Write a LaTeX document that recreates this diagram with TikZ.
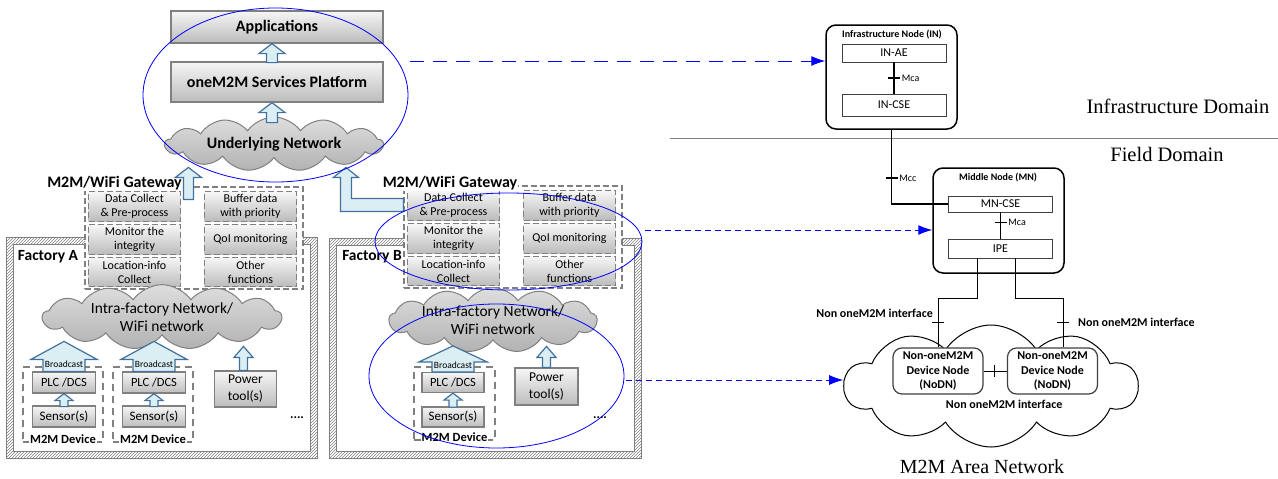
\documentclass[tikz,border=0pt]{standalone}
\usepackage{fontspec}
\setmainfont{Carlito}
\newfontfamily\domfont{Liberation Serif}
\usetikzlibrary{positioning,calc,shapes.geometric,shapes.symbols,patterns,arrows.meta}

\definecolor{boxline}{RGB}{128,128,128}
\definecolor{boxtop}{RGB}{246,246,246}
\definecolor{boxbot}{RGB}{188,188,188}
\definecolor{cloudtop}{RGB}{222,222,222}
\definecolor{cloudbot}{RGB}{178,178,178}
\definecolor{arrfill}{RGB}{218,238,243}
\definecolor{arrline}{RGB}{65,113,156}

% hollow block arrow pointing up: tip, length, half shaft, half head, head length
\newcommand{\blkarrow}[5]{%
  \draw[blkarr] (#1) -- ++(#4,#5) -- ++(#3-#4,0) -- ++(0,#2-#5)
    -- ++(-2*#3,0) -- ++(0,#5-#2) -- ++(#3-#4,0) -- cycle;}

\begin{document}
\begin{tikzpicture}[x=1pt, y=-1pt,
  greybox/.style={draw=boxline, line width=1.2pt, top color=boxtop, bottom color=boxbot, inner sep=1pt, align=center},
  gwbox/.style={greybox, dash pattern=on 6pt off 3pt, minimum width=92pt, minimum height=29.5pt, font=\fontsize{12}{14}\selectfont},
  gwframe/.style={draw=boxline, line width=1.2pt, dash pattern=on 6pt off 3pt, fill=white},
  devframe/.style={draw=boxline, line width=1.2pt, dash pattern=on 7pt off 5pt},
  netcloud/.style={cloud, cloud puffs=13, cloud puff arc=110, cloud ignores aspect, draw=boxline, line width=1pt, top color=cloudtop, bottom color=cloudbot, inner sep=0pt, align=center},
  blkarr/.style={draw=arrline, fill=arrfill, line width=1.2pt, line join=miter},
  title/.style={font=\bfseries\fontsize{16}{19}\selectfont, inner sep=1pt},
  devlbl/.style={font=\bfseries\fontsize{12.5}{15}\selectfont, fill=white, inner sep=1pt},
  ring/.style={ellipse, draw=blue, line width=0.8pt, inner sep=0pt},
  farrow/.style={blue, line width=1pt, -{Latex[length=14pt,width=10pt]}},
  onenode/.style={draw=black, line width=1.5pt, rounded corners=10pt, fill=white},
  entity/.style={draw=black!75, line width=0.8pt, fill=white, minimum width=104pt, font=\fontsize{12}{14}\selectfont, inner sep=0pt},
  nodn/.style={draw=black!75, line width=1.2pt, rounded corners=9pt, fill=white, minimum width=90pt, minimum height=46pt, align=center, font=\bfseries\fontsize{12}{14.5}\selectfont, inner sep=0pt},
  ifline/.style={black, line width=1.6pt},
  thinline/.style={black, line width=0.9pt},
  lbl/.style={font=\fontsize{10}{12}\selectfont, inner sep=1pt},
  iflbl/.style={font=\bfseries\fontsize{12}{14}\selectfont, inner sep=1pt},
  domlbl/.style={font=\domfont\fontsize{20.5}{24}\selectfont, inner sep=0pt}]
\useasboundingbox (0,0) rectangle (1278,479);

% factory frames
\fill[pattern=north east lines, pattern color=boxline, even odd rule] (6,237) rectangle (317,458) (13,244) rectangle (310,451);
\draw[boxline, line width=0.8pt] (6,237) rectangle (317,458) (13,244) rectangle (310,451);
\fill[pattern=north east lines, pattern color=boxline, even odd rule] (329,238) rectangle (641,458) (336,245) rectangle (634,451);
\draw[boxline, line width=0.8pt] (329,238) rectangle (641,458) (336,245) rectangle (634,451);
\node[title, font=\bfseries\fontsize{15.5}{18}\selectfont] (facA) at (48,257) {Factory A};
\node[title, font=\bfseries\fontsize{15.5}{18}\selectfont] (facB) at (372,257) {Factory B};

% gateways
\foreach \dx/\dy/\gn in {0/0/a, 319/-1/b} {
\begin{scope}[shift={(\dx,\dy)}]
\node[gwframe, minimum width=218pt, minimum height=102pt] (gw\gn) at (194,238) {};
\node[gwbox] (dc\gn) at (134.5,206.5) {Data Collect\\\& Pre-process};
\node[gwbox] (mi\gn) at (134.5,239.5) {Monitor the\\integrity};
\node[gwbox] (lc\gn) at (134.5,272) {Location-info\\Collect};
\node[gwbox] (bd\gn) at (250.5,206.5) {Buffer data\\with priority};
\node[gwbox] (qm\gn) at (250.5,239.5) {QoI monitoring};
\node[gwbox] (of\gn) at (250.5,272) {Other\\functions};
\end{scope}
}
\node[title, fill=white] (gwla) at (114.5,183) {M2M/WiFi Gateway};
\node[title, fill=white] (gwlb) at (450,183) {M2M/WiFi Gateway};

% top layers
\node[greybox, minimum width=212pt, minimum height=32pt, font=\bfseries\fontsize{16}{19}\selectfont] (apps) at (277,27) {Applications};
\node[greybox, minimum width=212pt, minimum height=40pt, font=\bfseries\fontsize{16}{19}\selectfont] (plat) at (277,82) {oneM2M Services Platform};
\node[netcloud, minimum width=218pt, minimum height=54pt, font=\bfseries\fontsize{16}{19}\selectfont] (ucloud) at (274,144) {Underlying Network};
\blkarrow{[xshift=-5pt]apps.south}{19}{5.5}{13}{10}
\blkarrow{[xshift=-5pt]plat.south}{20}{5.5}{13}{10}
\blkarrow{$(gwa.north west)+(104,-19)$}{32}{5}{13}{10}
\draw[blkarr] ($(gwb.north west)+(0,13)$) -- ++(-52,0) -- ++(0,-21) -- ++(7,0) -- ++(-12.5,-10)
  -- ++(-12.5,10) -- ++(7,0) -- ++(0,34) -- ++(63,0) -- cycle;

% factory A
\node[netcloud, minimum width=239pt, minimum height=50pt, font=\fontsize{15.5}{18}\selectfont] (icloudA) at (162,317) {Intra-factory Network/\\WiFi network};
\foreach \cx/\dn in {63/A1, 153/A2} {
\node[devframe, minimum width=80pt, minimum height=75pt] (dev\dn) at (\cx,404.5) {};
\node[greybox, minimum width=63pt, minimum height=21pt, font=\fontsize{12.5}{15}\selectfont] (plc\dn) at (\cx+1,382.5) {PLC /DCS};
\node[greybox, minimum width=63pt, minimum height=21pt, font=\fontsize{13}{15}\selectfont] (sen\dn) at (\cx+1,416.5) {Sensor(s)};
\blkarrow{plc\dn.south}{13}{4}{9}{7}
\blkarrow{$(plc\dn.north)+(0,-30)$}{30}{21}{33}{18}
\node[font=\fontsize{9.5}{11}\selectfont, inner sep=0pt] (bc\dn) at ($(plc\dn.north)+(0,-7)$) {Broadcast};
\node[devlbl] (dl\dn) at ($(dev\dn.south)+(0,-3)$) {M2M Device};
}
\node[greybox, minimum width=62pt, minimum height=36pt, font=\fontsize{13.5}{17}\selectfont] (ptA) at (245.5,389) {Power\\tool(s)};
\blkarrow{$(ptA.north)+(-2,-24)$}{24}{4}{9.5}{11}
\node[font=\bfseries\fontsize{13}{15}\selectfont] (dotsA) at (297,418) {....};

% factory B
\node[netcloud, minimum width=208pt, minimum height=47pt, font=\fontsize{15.5}{18}\selectfont] (icloudB) at (493,320) {Intra-factory Network/\\WiFi network};
\node[devframe, minimum width=81pt, minimum height=73pt] (devB) at (454.5,403.5) {};
\node[greybox, minimum width=62pt, minimum height=20pt, font=\fontsize{12.5}{15}\selectfont] (plcB) at (453,382.5) {PLC /DCS};
\node[greybox, minimum width=62pt, minimum height=20pt, font=\fontsize{13}{15}\selectfont] (senB) at (453,417) {Sensor(s)};
\blkarrow{plcB.south}{14}{4}{9}{7}
\blkarrow{$(plcB.north)+(0,-26)$}{26}{21}{34}{16}
\node[font=\fontsize{9.5}{11}\selectfont, inner sep=0pt] (bcB) at ($(plcB.north)+(0,-7)$) {Broadcast};
\node[devlbl] (dlB) at ($(devB.south)+(0,-3)$) {M2M Device};
\node[greybox, minimum width=63pt, minimum height=37pt, font=\fontsize{13.5}{17}\selectfont] (ptB) at (546.5,386.5) {Power\\tool(s)};
\blkarrow{$(ptB.north)+(0,-21)$}{21}{4}{9.5}{11}
\node[font=\bfseries\fontsize{13}{15}\selectfont] (dotsB) at (600,418) {....};

% oneM2M side
\draw[boxline, line width=1pt] (670,138) -- (1278,138);
\node[domlbl] (infdom) at (1178,106) {Infrastructure Domain};
\node[domlbl] (flddom) at (1167,154) {Field Domain};

\node[onenode, minimum width=131pt, minimum height=104pt] (innode) at (891.5,77) {};
\node[font=\bfseries\fontsize{10}{12}\selectfont] (intitle) at (892,35) {Infrastructure Node (IN)};
\node[entity, minimum height=18pt] (inae) at (894,53) {IN-AE};
\node[entity, minimum height=22pt] (incse) at (894,105) {IN-CSE};
\draw[ifline] (inae) -- coordinate[pos=0.5] (mca1) (incse);
\draw[ifline] ($(mca1)+(-6,0)$) -- ($(mca1)+(6,0)$) node[lbl, right] {Mca};

\node[onenode, minimum width=131pt, minimum height=105pt] (mn) at (998.5,220.5) {};
\node[font=\bfseries\fontsize{10}{12}\selectfont] (mntitle) at (998,178) {Middle Node (MN)};
\node[entity, minimum height=16pt] (mncse) at (1000.5,204) {MN-CSE};
\node[entity, minimum height=19pt] (ipe) at (1000.5,248.5) {IPE};
\draw[ifline] (mncse) -- coordinate[pos=0.38] (mca2) (ipe);
\draw[ifline] ($(mca2)+(-6,0)$) -- ($(mca2)+(6,0)$) node[lbl, right] {Mca};
\draw[ifline] (innode.south) -- coordinate[pos=0.65] (mcc) (innode.south |- mncse.west) -- (mncse.west);
\draw[ifline] ($(mcc)+(-6,0)$) -- ($(mcc)+(6,0)$) node[lbl, right] {Mcc};

\node[cloud, cloud puffs=10, cloud puff arc=115, cloud ignores aspect, draw=black, line width=1pt, fill=white, minimum width=293pt, minimum height=122pt] (area) at (991,386) {};
\node[nodn] (nodn1) at (938,371) {Non-oneM2M\\Device Node\\(NoDN)};
\node[nodn] (nodn2) at (1052.5,371) {Non-oneM2M\\Device Node\\(NoDN)};
\draw[thinline] ([xshift=-23.5pt]ipe.south) -- ++(0,40) -| coordinate[pos=0.75] (nl) (nodn1.north);
\draw[thinline] ([xshift=14.5pt]ipe.south) -- ++(0,40) -| coordinate[pos=0.75] (nr) ([xshift=10.5pt]nodn2.north);
\draw[thinline] (nodn1) -- coordinate[pos=0.45] (nm) (nodn2);
\draw[thinline] ($(nl)+(-6,0)$) -- ($(nl)+(6,0)$);
\draw[thinline] ($(nr)+(-6,0)$) -- ($(nr)+(6,0)$);
\draw[thinline] ($(nm)+(0,-6)$) -- ($(nm)+(0,6)$);
\node[iflbl, anchor=east] (ifl) at ($(nl)+(-4,-10)$) {Non oneM2M interface};
\node[iflbl, anchor=west] (ifr) at ($(nr)+(14,-1)$) {Non oneM2M interface};
\node[iflbl] (ifm) at ($(nm)+(10,33)$) {Non oneM2M interface};
\node[domlbl, font=\domfont\fontsize{20}{24}\selectfont] (areanet) at (982,467) {M2M Area Network};

% highlight rings
\node[ring, minimum width=265pt, minimum height=174pt] (topring) at (275.5,95) {};
\node[ring, minimum width=267pt, minimum height=97pt] (gwring) at (508.5,241.5) {};
\node[ring, minimum width=255pt, minimum height=144pt] (devring) at (496.5,376) {};
\coordinate (s1) at (410,61);
\coordinate (s2) at (645,230);
\coordinate (s3) at (626,380);
\draw[farrow, dash pattern=on 14pt off 9pt] (s1) -- (s1 -| innode.west);
\draw[farrow, dash pattern=on 6pt off 4pt] (s2) -- (s2 -| mn.west);
\draw[farrow, dash pattern=on 6pt off 4pt] (s3) -- (s3 -| area.west);
\end{tikzpicture}
\end{document}
